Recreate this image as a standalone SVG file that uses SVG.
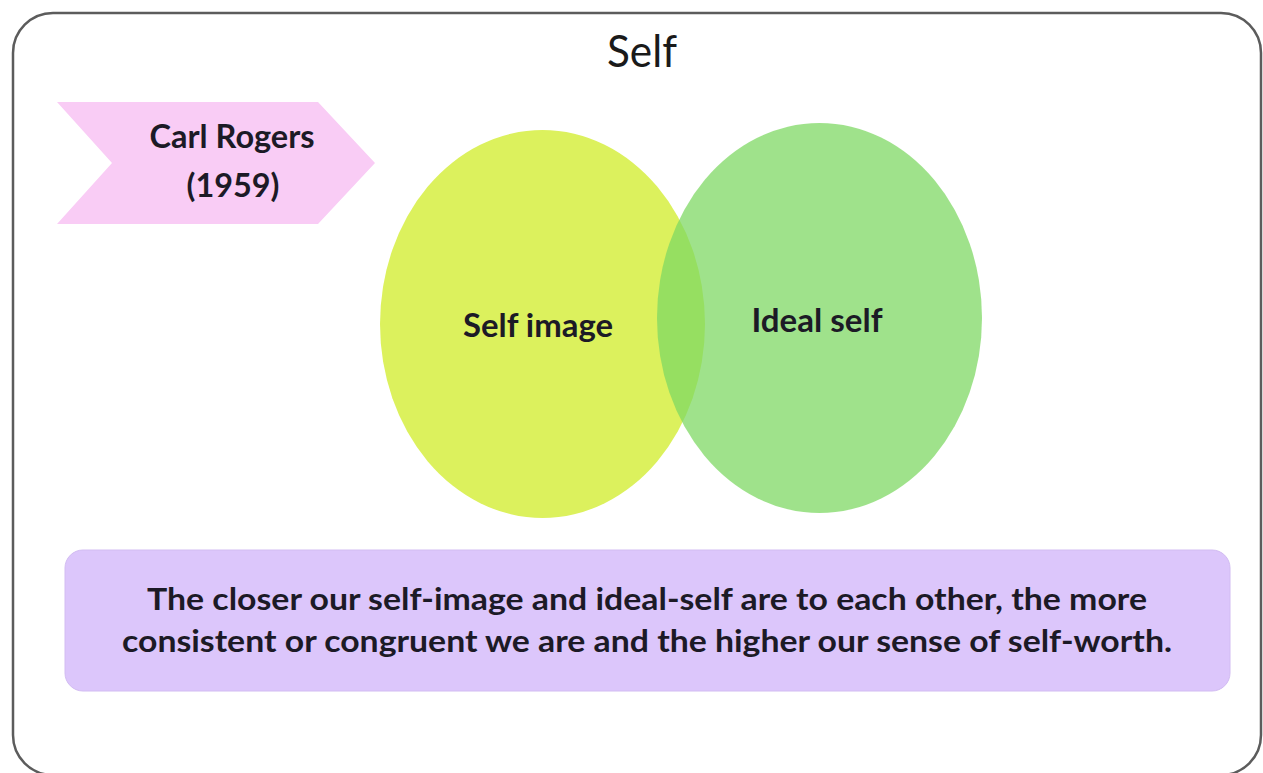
<svg xmlns="http://www.w3.org/2000/svg" width="1263" height="773" viewBox="0 0 1263 773">
  <style>
    .label { font-family: Lato, "Open Sans", "Liberation Sans", sans-serif; font-weight: bold; fill: #1c1a26; text-anchor: middle; }
    .title { font-family: Lato, "Open Sans", "Liberation Sans", sans-serif; font-weight: normal; fill: #1a1a1a; text-anchor: middle; }
  </style>
  <rect width="1263" height="773" fill="#ffffff"/>

  <!-- outer frame -->
  <g id="frame">
    <rect x="13" y="13" width="1248" height="762" rx="40" ry="40" fill="#ffffff" stroke="#5c5c5c" stroke-width="2.5"/>
    <text class="title" x="642" y="67" font-size="44" textLength="70" lengthAdjust="spacingAndGlyphs">Self</text>
  </g>

  <!-- author banner -->
  <g id="author">
    <polygon points="57,102 318,102 375,163 318,224 57,224 112,163" fill="#f9ccf5"/>
    <text class="label" x="232" y="148" font-size="32" textLength="165" lengthAdjust="spacingAndGlyphs">Carl Rogers</text>
    <text class="label" x="233" y="197" font-size="32" textLength="93" lengthAdjust="spacingAndGlyphs">(1959)</text>
  </g>

  <!-- self image circle -->
  <g id="self-image">
    <ellipse cx="542.5" cy="324" rx="162.5" ry="194" fill="#dcf15d"/>
    <text class="label" x="538" y="337" font-size="33" textLength="150" lengthAdjust="spacingAndGlyphs">Self image</text>
  </g>

  <!-- ideal self circle, translucent over the first -->
  <g id="ideal-self">
    <ellipse cx="819.5" cy="318" rx="162.5" ry="195" fill="#7ed863" fill-opacity="0.74"/>
    <text class="label" x="817" y="332" font-size="33" textLength="131" lengthAdjust="spacingAndGlyphs">Ideal self</text>
  </g>

  <!-- summary box -->
  <g id="summary">
    <rect x="65" y="550" width="1165" height="141" rx="18" ry="18" fill="#dcc6fb" stroke="#d2bcf2" stroke-width="1"/>
    <text class="label" x="647" y="610" font-size="31" textLength="1000" lengthAdjust="spacingAndGlyphs">The closer our self-image and ideal-self are to each other, the more</text>
    <text class="label" x="647" y="652" font-size="31" textLength="1050" lengthAdjust="spacingAndGlyphs">consistent or congruent we are and the higher our sense of self-worth.</text>
  </g>

  <g id="connectors"/>
</svg>
